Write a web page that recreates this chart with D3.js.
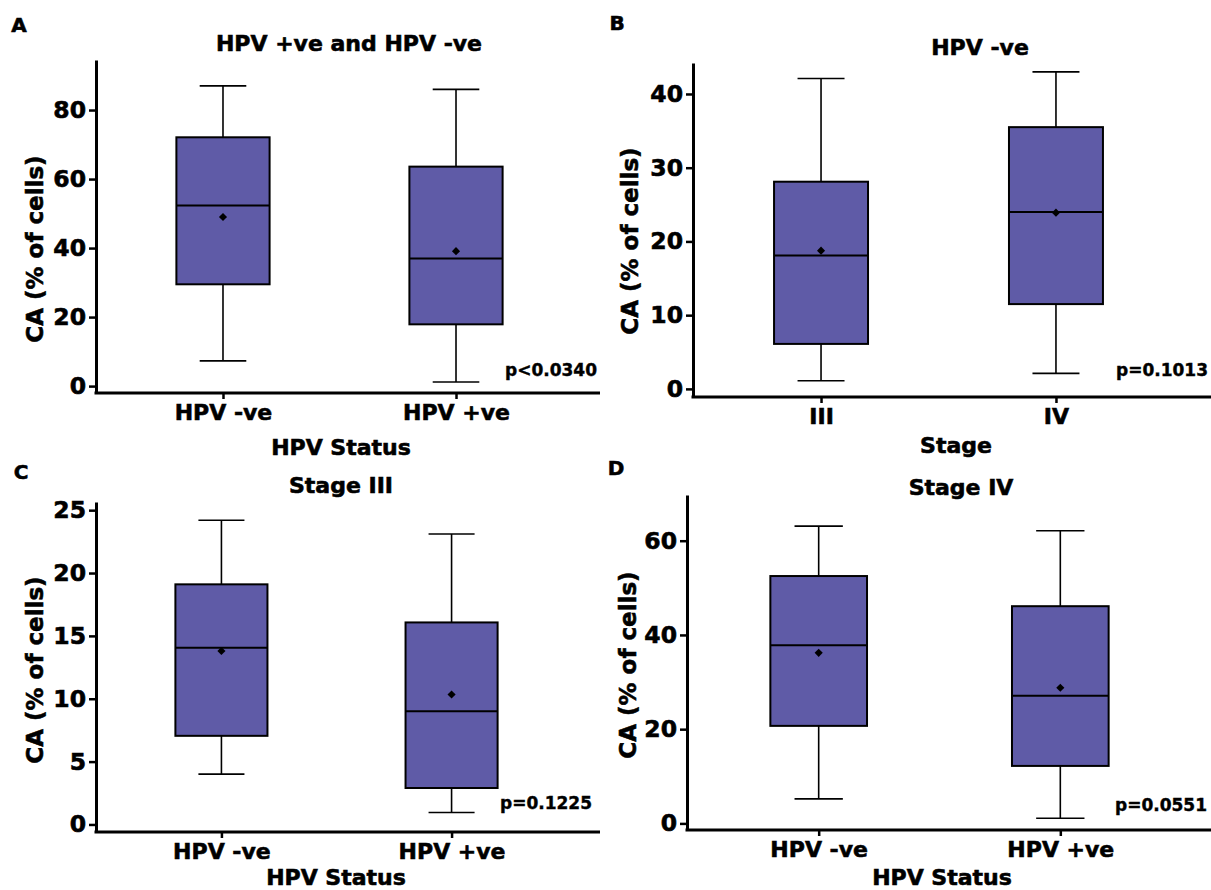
<!DOCTYPE html>
<meta charset="utf-8">
<style>

body {
  margin: 0;
  background: #fff;
}

svg {
  display: block;
  font-family: "DejaVu Sans", sans-serif;
  font-weight: bold;
}

svg text {
  fill: #000;
  stroke: #000;
  stroke-width: 0.6px;
}

.axis path,
.axis line {
  fill: none;
  stroke: #000;
}

.axis .domain {
  stroke-width: 3px;
}

.axis .tick line {
  stroke-width: 2.5px;
}

.axis text {
  font-family: "DejaVu Sans", sans-serif;
  font-weight: bold;
  font-size: 22px;
}

.yaxis text {
  font-size: 23.5px;
}

.box {
  fill: #5f5ba7;
  stroke: #000;
  stroke-width: 2px;
}

.whisker {
  stroke: #000;
  stroke-width: 1.6px;
}

.median {
  stroke: #000;
  stroke-width: 2px;
}

</style>
<body>
<script src="https://d3js.org/d3.v7.min.js"></script>
<script>

// each box: [low whisker, q1, median, q3, high whisker]

// A - all patients by HPV status
var catsA = ["HPV -ve", "HPV +ve"];
var boxA = [[7.3, 29.5, 52.3, 72.1, 87.0], [1.2, 17.9, 37.0, 63.6, 86.0]];
var meanA = [49.0, 39.1];
var ticksA = [0, 20, 40, 60, 80];

// B - HPV -ve by stage
var catsB = ["III", "IV"];
var boxB = [[1.1, 6.1, 18.1, 28.1, 42.1], [2.1, 11.5, 24.0, 35.5, 43.0]];
var meanB = [18.75, 23.9];
var ticksB = [0, 10, 20, 30, 40];

// C - stage III by HPV status
var catsC = ["HPV -ve", "HPV +ve"];
var boxC = [[4.0, 7.05, 14.05, 19.1, 24.2], [0.95, 2.9, 9.0, 16.07, 23.1]];
var meanC = [13.8, 10.34];
var ticksC = [0, 5, 10, 15, 20, 25];

// D - stage IV by HPV status
var catsD = ["HPV -ve", "HPV +ve"];
var boxD = [[5.2, 20.7, 37.8, 52.5, 63.1], [1.1, 12.2, 27.1, 46.1, 62.1]];
var meanD = [36.2, 28.8];
var ticksD = [0, 20, 40, 60];

var panels = [
  {letter: "A", letterPos: [19, 25], title: "HPV +ve and HPV -ve", titlePos: [349, 43],
   xTitle: "HPV Status", xTitlePos: [341, 447], yTitlePos: [35, 249],
   pval: "p<0.0340", pPos: [597, 370],
   axisX: 96, top: 60, bottom: 393, right: 600, w: 487, yDom: [-2.0, 94.5],
   cats: catsA, boxes: boxA, means: meanA, ticks: ticksA},
  {letter: "B", letterPos: [617, 23], title: "HPV -ve", titlePos: [980, 47],
   xTitle: "Stage", xTitlePos: [956, 445], yTitlePos: [630, 241],
   pval: "p=0.1013", pPos: [1208, 370],
   axisX: 693, top: 63, bottom: 397, right: 1211, w: 491, yDom: [-1.1, 44.2],
   cats: catsB, boxes: boxB, means: meanB, ticks: ticksB},
  {letter: "C", letterPos: [21, 472], title: "Stage III", titlePos: [341, 485],
   xTitle: "HPV Status", xTitlePos: [336, 877], yTitlePos: [35, 670],
   pval: "p=0.1225", pPos: [592, 803],
   axisX: 96, top: 502, bottom: 832, right: 600, w: 481, yDom: [-0.6, 25.65],
   cats: catsC, boxes: boxC, means: meanC, ticks: ticksC},
  {letter: "D", letterPos: [616, 468], title: "Stage IV", titlePos: [961, 487],
   xTitle: "HPV Status", xTitlePos: [942, 877], yTitlePos: [628, 665],
   pval: "p=0.0551", pPos: [1207, 805],
   axisX: 687, top: 495, bottom: 830, right: 1211, w: 505, yDom: [-1.4, 69.7],
   cats: catsD, boxes: boxD, means: meanD, ticks: ticksD}
];

var svg = d3.select("body").append("svg")
    .attr("width", 1211)
    .attr("height", 890);

function label(g, txt, pos, size, anchor) {
  return g.append("text")
      .attr("x", pos[0])
      .attr("y", pos[1])
      .attr("dy", "0.36em")
      .attr("text-anchor", anchor || "middle")
      .style("font-size", size + "px")
      .text(txt);
}

panels.forEach(function(p) {
  var g = svg.append("g");

  var y = d3.scaleLinear()
      .domain(p.yDom)
      .range([p.bottom, p.top]);

  var x = d3.scalePoint()
      .domain(p.cats)
      .range([p.axisX, p.axisX + p.w])
      .padding(0.545);

  var step = x.step(),
      bw = 0.40 * step,
      cw = 0.20 * step;

  // y axis
  g.append("g")
      .attr("class", "axis yaxis")
      .attr("transform", "translate(" + p.axisX + ",0)")
      .call(d3.axisLeft(y).tickValues(p.ticks).tickSize(7).tickPadding(3).tickSizeOuter(0));

  // x axis
  var xa = g.append("g")
      .attr("class", "axis")
      .attr("transform", "translate(0," + p.bottom + ")")
      .call(d3.axisBottom(x).tickSize(6).tickPadding(5).tickSizeOuter(0));
  xa.select(".domain").remove();
  xa.append("line")
      .attr("x1", p.axisX - 1.5)
      .attr("x2", p.right)
      .style("stroke-width", "3px");

  var data = p.cats.map(function(c, i) {
    return {cat: c, s: p.boxes[i], mean: p.means[i]};
  });

  var b = g.selectAll(".bx")
      .data(data)
    .enter().append("g")
      .attr("class", "bx");

  // whiskers
  b.append("line")
      .attr("class", "whisker")
      .attr("x1", function(d) { return x(d.cat); })
      .attr("x2", function(d) { return x(d.cat); })
      .attr("y1", function(d) { return y(d.s[0]); })
      .attr("y2", function(d) { return y(d.s[4]); });

  b.selectAll(".cap")
      .data(function(d) { return [[d.cat, d.s[0]], [d.cat, d.s[4]]]; })
    .enter().append("line")
      .attr("class", "whisker")
      .attr("x1", function(d) { return x(d[0]) - cw / 2; })
      .attr("x2", function(d) { return x(d[0]) + cw / 2; })
      .attr("y1", function(d) { return y(d[1]); })
      .attr("y2", function(d) { return y(d[1]); });

  b.append("rect")
      .attr("class", "box")
      .attr("x", function(d) { return x(d.cat) - bw / 2; })
      .attr("width", bw)
      .attr("y", function(d) { return y(d.s[3]); })
      .attr("height", function(d) { return y(d.s[1]) - y(d.s[3]); });

  b.append("line")
      .attr("class", "median")
      .attr("x1", function(d) { return x(d.cat) - bw / 2; })
      .attr("x2", function(d) { return x(d.cat) + bw / 2; })
      .attr("y1", function(d) { return y(d.s[2]); })
      .attr("y2", function(d) { return y(d.s[2]); });

  // mean marker
  b.append("path")
      .attr("d", d3.symbol().type(d3.symbolDiamond2).size(42))
      .attr("transform", function(d) { return "translate(" + x(d.cat) + "," + y(d.mean) + ")"; })
      .style("fill", "#000");

  // texts
  label(g, p.letter, p.letterPos, 20);
  label(g, p.title, p.titlePos, 22);
  label(g, p.xTitle, p.xTitlePos, 22);
  label(g, p.pval, p.pPos, 17, "end").style("stroke-width", "0.4px");
  g.append("text")
      .attr("transform", "translate(" + p.yTitlePos[0] + "," + p.yTitlePos[1] + ") rotate(-90)")
      .attr("dy", "0.36em")
      .attr("text-anchor", "middle")
      .style("font-size", "23px")
      .text("CA (% of cells)");
});

</script>
